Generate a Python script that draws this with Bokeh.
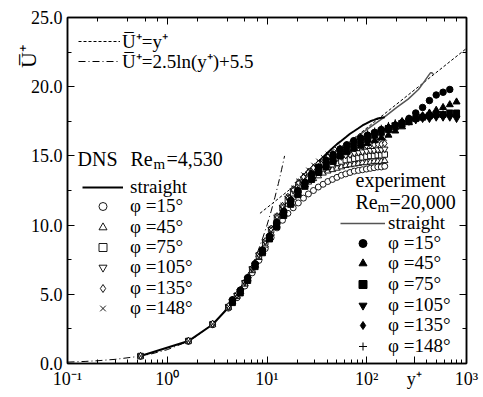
import math
from bokeh.plotting import figure
from bokeh.models import (LinearAxis, LogAxis, LogTicker, SingleIntervalTicker, FixedTicker,
                          PrintfTickFormatter, Label, Legend, LegendItem, Range1d)
from bokeh.embed import file_html
from bokeh.resources import INLINE

FONT = "Liberation Serif"

# ---------------- data ----------------
# theory lines
yplus_lin = [0.1, 0.15, 0.2, 0.3, 0.5, 0.7, 1.0, 1.5, 2.0, 3.0, 4.0, 5.0, 6.0, 7.0, 8.0, 9.0, 10.0, 11.0, 12.0, 13.0, 14.0, 15.0]
u_lin = [0.1, 0.15, 0.2, 0.3, 0.5, 0.7, 1.0, 1.5, 2.0, 3.0, 4.0, 5.0, 6.0, 7.0, 8.0, 9.0, 10.0, 11.0, 12.0, 13.0, 14.0, 15.0]
yplus_log = [8.5, 1000.0]
u_log = [10.85, 22.77]

# DNS, Re_m = 4,530
yplus_dns = [0.54, 1.63, 2.85, 4.1, 5.0, 6.0, 7.1, 8.3, 9.6, 11.0, 12.6, 14.3, 16.2, 18.3,
             20.6, 23.2, 26.0, 29.2, 32.7, 36.5, 40.7, 45.3, 50.3, 55.7, 61.6, 68.0, 75.0,
             82.5, 90.6, 99.3, 108.6, 118.5, 129.0, 140.0, 151.5]
u_dns_straight = [0.54, 1.62, 2.82, 4.05, 4.85, 5.75, 6.75, 7.75, 8.7, 9.6, 10.45, 11.15, 11.8, 12.35,
                  12.85, 13.3, 13.75, 14.15, 14.55, 14.9, 15.25, 15.55, 15.85, 16.1, 16.35, 16.6, 16.8,
                  17.0, 17.2, 17.35, 17.5, 17.6, 17.7, 17.75, 17.8]
u_dns_15 = [0.52, 1.6, 2.8, 4.0, 4.75, 5.6, 6.55, 7.45, 8.3, 9.1, 9.8, 10.35, 10.85, 11.25,
            11.6, 11.95, 12.25, 12.5, 12.75, 12.95, 13.15, 13.3, 13.45, 13.6, 13.7, 13.8, 13.9,
            13.95, 14.0, 14.05, 14.1, 14.15, 14.2, 14.2, 14.25]
u_dns_45 = [0.53, 1.62, 2.83, 4.05, 4.85, 5.75, 6.7, 7.65, 8.55, 9.4, 10.2, 10.9, 11.5, 12.0,
            12.45, 12.8, 13.1, 13.35, 13.55, 13.75, 13.9, 14.0, 14.1, 14.2, 14.3, 14.35, 14.4,
            14.45, 14.5, 14.5, 14.55, 14.6, 14.6, 14.6, 14.65]
u_dns_75 = [0.54, 1.63, 2.84, 4.08, 4.9, 5.8, 6.8, 7.8, 8.75, 9.65, 10.5, 11.2, 11.8, 12.3,
            12.75, 13.1, 13.4, 13.65, 13.9, 14.1, 14.25, 14.4, 14.5, 14.6, 14.7, 14.75, 14.8,
            14.85, 14.9, 14.95, 15.0, 15.0, 15.05, 15.05, 15.1]
u_dns_105 = [0.55, 1.64, 2.86, 4.1, 4.92, 5.85, 6.85, 7.85, 8.8, 9.7, 10.6, 11.3, 11.95, 12.5,
             12.95, 13.35, 13.7, 14.0, 14.25, 14.45, 14.6, 14.75, 14.85, 14.95, 15.05, 15.1, 15.2,
             15.25, 15.3, 15.35, 15.4, 15.4, 15.45, 15.45, 15.5]
u_dns_135 = [0.55, 1.65, 2.88, 4.15, 4.98, 5.9, 6.9, 7.9, 8.85, 9.75, 10.65, 11.4, 12.05, 12.6,
             13.1, 13.5, 13.85, 14.15, 14.45, 14.7, 14.9, 15.05, 15.2, 15.3, 15.4, 15.5, 15.55,
             15.6, 15.7, 15.75, 15.8, 15.8, 15.85, 15.85, 15.9]
u_dns_148 = [0.54, 1.63, 2.85, 4.12, 4.95, 5.88, 6.88, 7.9, 8.85, 9.8, 10.7, 11.45, 12.1, 12.7,
             13.2, 13.65, 14.0, 14.35, 14.65, 14.9, 15.15, 15.35, 15.5, 15.65, 15.75, 15.85, 15.95,
             16.0, 16.05, 16.1, 16.15, 16.2, 16.2, 16.25, 16.25]

# experiment, Re_m = 20,000
yplus_exp_straight = [30.0, 45.0, 70.0, 100.0, 150.0, 200.0, 260.0, 330.0, 380.0, 415.0, 435.0, 450.0, 465.0]
u_exp_straight = [13.9, 15.0, 16.1, 16.9, 17.8, 18.5, 19.1, 19.8, 20.4, 20.8, 21.0, 21.0, 20.9]

yplus_exp = [4.5, 5.4, 6.4, 7.6, 9.0, 10.6, 12.5, 14.7, 17.3, 20.4, 24.0, 28.0, 33.0, 39.0, 46.0,
             54.0, 63.0, 74.0, 87.0, 102.0, 120.0, 140.0, 165.0, 193.0, 226.0, 265.0, 310.0,
             363.0, 425.0, 497.0, 582.0, 680.0, 795.0]
yplus_exp_15 = yplus_exp[:32]
u_exp_15 = [4.6, 5.3, 6.2, 7.2, 8.2, 9.2, 10.2, 11.0, 11.8, 12.5, 13.1, 13.7, 14.2, 14.7, 15.1,
            15.5, 15.8, 16.1, 16.3, 16.5, 16.7, 16.9, 17.0, 17.2, 17.4, 17.7, 18.1, 18.5, 19.0,
            19.4, 19.6, 19.8]
u_exp_45 = [4.5, 5.2, 6.1, 7.1, 8.1, 9.1, 10.0, 10.8, 11.6, 12.3, 12.9, 13.4, 13.9, 14.3, 14.7,
            15.0, 15.3, 15.5, 15.7, 15.9, 16.1, 16.3, 16.5, 16.8, 17.1, 17.4, 17.7, 17.9, 18.1,
            18.3, 18.5, 18.7, 18.9]
u_exp_75 = [4.4, 5.1, 6.0, 7.0, 8.0, 9.0, 9.9, 10.7, 11.5, 12.2, 12.8, 13.3, 13.8, 14.2, 14.6,
            15.0, 15.3, 15.6, 15.9, 16.2, 16.5, 16.7, 16.9, 17.1, 17.3, 17.5, 17.7, 17.8, 17.9,
            18.0, 18.0, 18.1, 18.1]
u_exp_105 = [4.5, 5.2, 6.1, 7.1, 8.1, 9.1, 10.0, 10.8, 11.6, 12.3, 12.9, 13.5, 14.0, 14.4, 14.8,
             15.2, 15.5, 15.8, 16.1, 16.4, 16.6, 16.8, 17.0, 17.2, 17.4, 17.5, 17.6, 17.7, 17.7,
             17.8, 17.8, 17.8, 17.7]
u_exp_135 = [4.6, 5.3, 6.2, 7.2, 8.2, 9.2, 10.1, 10.9, 11.7, 12.4, 13.0, 13.6, 14.1, 14.6, 15.0,
             15.4, 15.7, 16.0, 16.3, 16.5, 16.7, 16.9, 17.1, 17.3, 17.5, 17.7, 17.8, 17.9, 18.0,
             18.0, 18.0, 17.9, 17.9]
u_exp_148 = [4.5, 5.3, 6.2, 7.3, 8.3, 9.3, 10.2, 11.0, 11.8, 12.5, 13.1, 13.7, 14.2, 14.7, 15.1,
             15.5, 15.8, 16.1, 16.4, 16.6, 16.8, 17.0, 17.2, 17.4, 17.5, 17.7, 17.8, 17.9, 17.9,
             18.0, 18.0, 18.0, 17.9]

phi_labels = ["15", "45", "75", "105", "135", "148"]
x_range = (0.1, 1000.0)
y_range = (0.0, 25.0)

# axis ticks and tick labels (the x title "y+" sits in the tick-label row, at y+ = 300)
x_major_ticks = [0.1, 1.0, 10.0, 100.0, 300.0, 1000.0]
x_tick_labels = ["10\u207b\u00b9", "10\u2070", "10\u00b9", "10\u00b2", "y\u207a", "10\u00b3"]
x_minor_ticks = [0.2, 0.3, 0.4, 0.5, 0.6, 0.7, 0.8, 0.9,
                 2.0, 3.0, 4.0, 5.0, 6.0, 7.0, 8.0, 9.0,
                 20.0, 30.0, 40.0, 50.0, 60.0, 70.0, 80.0, 90.0,
                 200.0, 400.0, 500.0, 600.0, 700.0, 800.0, 900.0]
y_title_at = 23.0
y_title = "U\u0305\u207a"

# ---------------- figure ----------------
p = figure(width=483, height=397, x_axis_type="log",
           x_range=Range1d(*x_range), y_range=Range1d(*y_range),
           output_backend="svg", toolbar_location=None,
           min_border_left=67, min_border_right=17, min_border_top=17, min_border_bottom=34,
           background_fill_color="white", border_fill_color="white")
p.grid.visible = False
p.outline_line_color = "black"
p.outline_line_width = 1.5


def style_axis(ax, show_labels=True):
    ax.axis_line_color = "black"
    ax.axis_line_width = 1.5
    ax.major_tick_line_color = "black"
    ax.minor_tick_line_color = "black"
    ax.major_tick_line_width = 1
    ax.minor_tick_line_width = 1
    ax.major_tick_in = 7
    ax.major_tick_out = 0
    ax.minor_tick_in = 4
    ax.minor_tick_out = 0
    ax.major_label_text_font = FONT
    ax.major_label_text_color = "black"
    if show_labels:
        ax.major_label_text_font_size = "18px"
        ax.major_label_standoff = 6
    else:
        ax.major_label_text_font_size = "2px"
        ax.major_label_text_alpha = 0
        ax.major_label_standoff = 0


xax = p.xaxis[0]
xax.ticker = FixedTicker(ticks=x_major_ticks, minor_ticks=x_minor_ticks)
xax.major_label_overrides = dict(zip(x_major_ticks, x_tick_labels))
style_axis(xax)
xax.major_label_standoff = 5

p.yaxis[0].ticker = SingleIntervalTicker(interval=5, num_minor_ticks=2)
p.yaxis[0].formatter = PrintfTickFormatter(format="%.1f")
style_axis(p.yaxis[0])
p.yaxis[0].major_label_standoff = 5

top = LogAxis(ticker=LogTicker())
style_axis(top, False)
p.add_layout(top, "above")
right = LinearAxis(ticker=SingleIntervalTicker(interval=5, num_minor_ticks=2))
style_axis(right, False)
p.add_layout(right, "right")

# y title: an outer left axis with one unticked label, rotated
ytitle = LinearAxis(ticker=FixedTicker(ticks=[y_title_at], minor_ticks=[]),
                    major_label_overrides={y_title_at: y_title},
                    major_label_orientation=math.pi / 2,
                    axis_line_color=None, major_tick_line_color=None, minor_tick_line_color=None,
                    major_tick_in=0, major_tick_out=0, minor_tick_in=0, minor_tick_out=0,
                    major_label_text_font=FONT, major_label_text_font_size="22px",
                    major_label_text_color="black", major_label_standoff=-1)
p.add_layout(ytitle, "left")

# ---------------- lines ----------------
r_log = p.line(yplus_log, u_log, line_color="black", line_width=1, line_dash="3 2")
r_lin = p.line(yplus_lin, u_lin, line_color="black", line_width=1, line_dash="7 3 1 3")
r_exp_straight = p.line(yplus_exp_straight, u_exp_straight, line_color="#555555", line_width=1.5)
r_dns_straight = p.line(yplus_dns, u_dns_straight, line_color="black", line_width=2)

# ---------------- DNS markers (open) ----------------
dns_sets = [u_dns_15, u_dns_45, u_dns_75, u_dns_105, u_dns_135, u_dns_148]
dns_markers = ["circle", "triangle", "square", "inverted_triangle", "diamond", "x"]
dns_sizes = [6, 6.5, 5.5, 6.5, 7, 6]
dns_r = []
for u, m, s in zip(dns_sets, dns_markers, dns_sizes):
    dns_r.append(p.scatter(yplus_dns, u, marker=m, size=s, line_color="black",
                           line_width=0.9, fill_color="white"))

# ---------------- experiment markers (filled) ----------------
exp_sets = [u_exp_15, u_exp_45, u_exp_75, u_exp_105, u_exp_135, u_exp_148]
exp_x = [yplus_exp_15, yplus_exp, yplus_exp, yplus_exp, yplus_exp, yplus_exp]
exp_markers = ["circle", "triangle", "square", "inverted_triangle", "diamond", "cross"]
exp_sizes = [6.5, 7, 6, 7, 7.5, 7]
exp_r = []
for xs, u, m, s in zip(exp_x, exp_sets, exp_markers, exp_sizes):
    exp_r.append(p.scatter(xs, u, marker=m, size=s, line_color="black",
                           line_width=1, fill_color="black"))

# ---------------- legends (one row each, for exact placement) ----------------
FL, FB = 67, 363  # frame left / bottom in page pixels (for placing annotations)
HALF_ROW = 11.4


def sx(px):
    return px - FL


def sy(py):
    return FB - py


def legend_row(label, renderer, left_px, center_py, gw, standoff):
    lg = Legend(items=[LegendItem(label=label, renderers=[renderer])],
                location=(sx(left_px), sy(center_py + HALF_ROW)),
                label_text_font=FONT, label_text_font_size="19px", label_text_color="black",
                glyph_width=gw, glyph_height=20, label_height=20, spacing=0,
                label_standoff=standoff, padding=0, margin=0,
                border_line_alpha=0, background_fill_alpha=0)
    p.add_layout(lg, "center")


legend_row(y_title + "=y\u207a", r_log, 78, 43, 42, 2)
legend_row(y_title + "=2.5ln(y\u207a)+5.5", r_lin, 78, 63, 42, 2)

PHI = "\u03c6"
dns_rows = [187, 206, 227, 247, 267, 288, 308]
legend_row("straight", r_dns_straight, 82, dns_rows[0], 41, 7)
for t, r, c in zip(phi_labels, dns_r, dns_rows[1:]):
    legend_row(PHI + " =" + t + "\u00b0", r, 82, c, 41, 7)

exp_rows = [223, 243, 263, 284, 305, 325, 346]
legend_row("straight", r_exp_straight, 340, exp_rows[0], 45, 3)
for t, r, c in zip(phi_labels, exp_r, exp_rows[1:]):
    legend_row(PHI + " =" + t + "\u00b0", r, 340, c, 45, 3)

BASE_SHIFT = 8  # alphabetic-baseline correction for Label placement


def lab(text, px, py, size="20px", align="left"):
    p.add_layout(Label(x=sx(px), y=sy(py - BASE_SHIFT), x_units="screen", y_units="screen",
                       text=text, text_font=FONT, text_font_size=size, text_color="black",
                       text_align=align, text_baseline="alphabetic"))


lab("DNS", 77, 166)
lab("Re", 130, 166)
lab("m", 153, 171, size="15px")
lab("=4,530", 166, 166)
lab("experiment", 355, 187)
lab("Re", 355, 209)
lab("m", 377, 214, size="15px")
lab("=20,000", 389, 209)

open("out.html", "w").write(file_html(p, INLINE))
